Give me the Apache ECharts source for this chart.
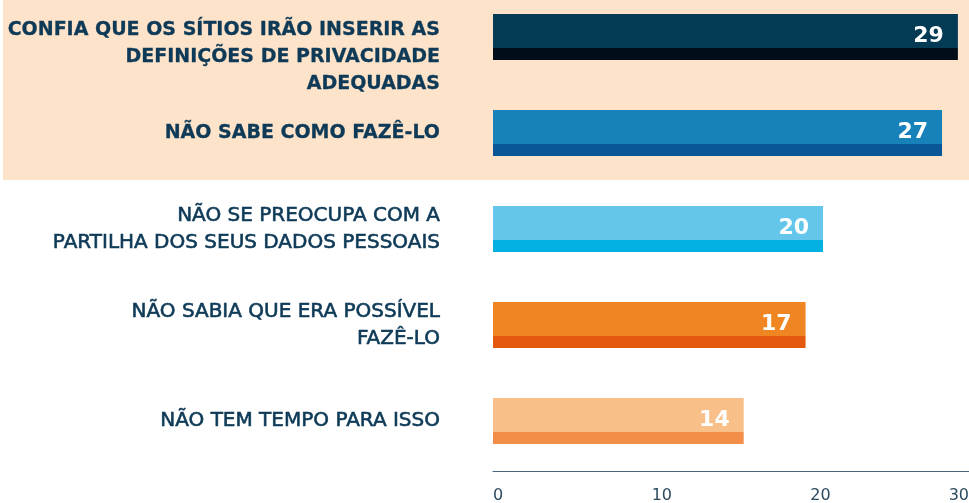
<!DOCTYPE html>
<html>
<head>
<meta charset="utf-8">
<script src="https://cdn.jsdelivr.net/npm/echarts@6/dist/echarts.min.js"></script>
<style>html,body{margin:0;padding:0;background:#fff}#c{width:969px;height:503px}</style>
</head>
<body>
<div id="c"></div>
<script>
var categories = [
  'CONFIA QUE OS SÍTIOS IRÃO INSERIR AS\nDEFINIÇÕES DE PRIVACIDADE\nADEQUADAS',
  'NÃO SABE COMO FAZÊ-LO',
  'NÃO SE PREOCUPA COM A\nPARTILHA DOS SEUS DADOS PESSOAIS',
  'NÃO SABIA QUE ERA POSSÍVEL\nFAZÊ-LO',
  'NÃO TEM TEMPO PARA ISSO'
];
var barValues = [29.3, 28.3, 20.8, 19.7, 15.8];
var shownValues = [29, 27, 20, 17, 14];
var highlighted = [true, true, false, false, false];
var topColors = ['#033a54', '#1781b9', '#64c6ea', '#f08621', '#f8bf89'];
var stripColors = ['#010d18', '#0a5797', '#02b1e2', '#e4590d', '#f28e47'];
var xTicks = [0, 10, 20, 30];

var chart = echarts.init(document.getElementById('c'));
var split = 0.745;
var data = barValues.map(function (v, i) {
  return {
    value: v,
    itemStyle: {
      color: new echarts.graphic.LinearGradient(0, 0, 0, 1, [
        {offset: 0, color: topColors[i]},
        {offset: split, color: topColors[i]},
        {offset: split, color: stripColors[i]},
        {offset: 1, color: stripColors[i]}
      ])
    }
  };
});
var labelColor = '#0e3a57';
var catData = categories.map(function (c, i) {
  return {value: c, textStyle: {
    fontWeight: highlighted[i] ? 'bold' : 'normal',
    fontSize: highlighted[i] ? 19 : 20,
    lineHeight: 27,
    color: labelColor,
    textBorderColor: labelColor,
    textBorderWidth: highlighted[i] ? 0.3 : 0.6,
    fontFamily: 'DejaVu Sans'
  }};
});
chart.setOption({
  animation: false,
  graphic: [{
    type: 'rect', left: 3, top: 0, z: -10,
    shape: {width: 966, height: 180},
    style: {fill: '#fde3c9'}
  }],
  grid: {left: 493, right: 0, top: -11, height: 480, outerBoundsMode: 'none', containLabel: false},
  xAxis: {
    type: 'value', min: xTicks[0], max: xTicks[xTicks.length - 1], interval: 10,
    offset: 2,
    splitLine: {show: false},
    axisTick: {show: false},
    axisLine: {show: true, lineStyle: {color: '#4a6378', width: 1}},
    axisLabel: {
      color: '#2c4a5e', fontSize: 16, fontFamily: 'DejaVu Sans', margin: 17,
      align: 'left', alignMaxLabel: 'right'
    }
  },
  yAxis: {
    type: 'category', inverse: true, data: catData,
    axisLine: {show: false}, axisTick: {show: false},
    axisLabel: {
      margin: 53, align: 'right',
      formatter: function (v, i) { return i === 0 ? '{s| }\n' + v : v; },
      rich: {s: {height: 40, lineHeight: 40, fontSize: 10}}
    }
  },
  series: [{
    type: 'bar', data: data, barWidth: 46,
    label: {
      show: true, position: 'insideRight', distance: 14, offset: [0, -1],
      color: '#fff', fontSize: 22, fontWeight: 'bold', fontFamily: 'DejaVu Sans',
      formatter: function (p) { return String(shownValues[p.dataIndex]); }
    }
  }]
});
</script>
</body>
</html>
